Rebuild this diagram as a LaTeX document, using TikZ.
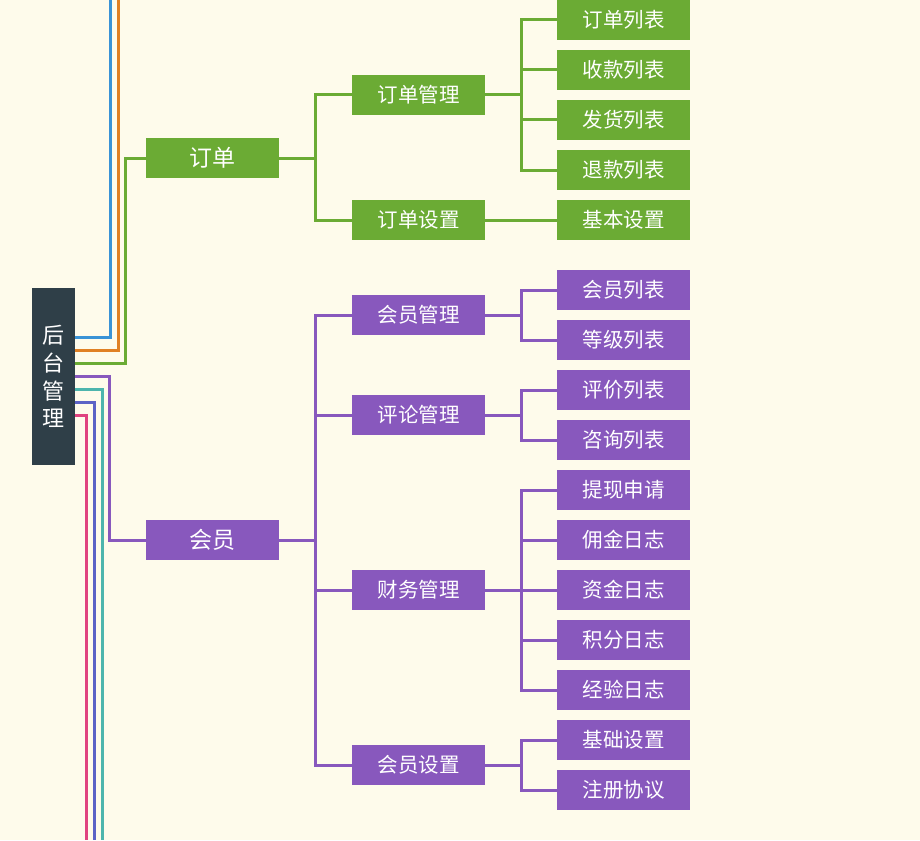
\documentclass[tikz,border=0pt]{standalone}
\usepackage{fontspec}
\setmainfont{Noto Sans CJK SC}
\definecolor{bg}{HTML}{FEFBEB}
\definecolor{gr}{HTML}{6BAB34}
\definecolor{pu}{HTML}{8858BD}
\definecolor{rootc}{HTML}{2F3F48}
\definecolor{bl}{HTML}{3A93D6}
\definecolor{orc}{HTML}{E08024}
\definecolor{te}{HTML}{4DB5AD}
\definecolor{ind}{HTML}{5C63C6}
\definecolor{pk}{HTML}{E0437F}
\begin{document}
\begin{tikzpicture}[x=1pt,y=-1pt,
  box/.style={minimum width=133pt, minimum height=40pt, inner sep=0pt, text=white, font=\fontsize{20.5}{24}\selectfont},
  gbox/.style={box, fill=gr},
  pbox/.style={box, fill=pu},
  big/.style={font=\fontsize{23}{28}\selectfont},
  conn/.style={line width=3pt},
  gline/.style={conn, draw=gr},
  pline/.style={conn, draw=pu}]
\fill[bg] (0,0) rectangle (920,840);
\useasboundingbox (0,0) rectangle (920,840);

% root
\node[fill=rootc, minimum width=43pt, minimum height=177pt, inner sep=0pt, text=white,
      align=center, font=\fontsize{22}{27.8}\selectfont] (root) at (53.5,376.5) {后\\台\\管\\理};

% level 1
\node[gbox, big] (dd) at (212.5,158) {订单};
\node[pbox, big] (hy) at (212.5,540) {会员};

% level 2
\node[gbox] (ddgl) at (418.5,95) {订单管理};
\node[gbox] (ddsz) at (418.5,220) {订单设置};
\node[pbox] (hygl) at (418.5,315) {会员管理};
\node[pbox] (plgl) at (418.5,415) {评论管理};
\node[pbox] (cwgl) at (418.5,590) {财务管理};
\node[pbox] (hysz) at (418.5,765) {会员设置};

% level 3
\node[gbox] (a1) at (623.5,20) {订单列表};
\node[gbox] (a2) at (623.5,70) {收款列表};
\node[gbox] (a3) at (623.5,120) {发货列表};
\node[gbox] (a4) at (623.5,170) {退款列表};
\node[gbox] (b1) at (623.5,220) {基本设置};
\node[pbox] (c1) at (623.5,290) {会员列表};
\node[pbox] (c2) at (623.5,340) {等级列表};
\node[pbox] (d1) at (623.5,390) {评价列表};
\node[pbox] (d2) at (623.5,440) {咨询列表};
\node[pbox] (e1) at (623.5,490) {提现申请};
\node[pbox] (e2) at (623.5,540) {佣金日志};
\node[pbox] (e3) at (623.5,590) {资金日志};
\node[pbox] (e4) at (623.5,640) {积分日志};
\node[pbox] (e5) at (623.5,690) {经验日志};
\node[pbox] (f1) at (623.5,740) {基础设置};
\node[pbox] (f2) at (623.5,790) {注册协议};

% free ends
\coordinate (tB) at (110,0);
\coordinate (tO) at (118,0);
\coordinate (bT) at (102,840);
\coordinate (bI) at (94,840);
\coordinate (bP) at (86,840);

% root connectors
\draw[conn, draw=bl] (root.east |- 0,337) -| (tB);
\draw[conn, draw=orc] (root.east |- 0,350) -| (tO);
\draw[gline] (root.east |- 0,363) -| ([xshift=-20pt]dd.west) -- (dd.west);
\draw[pline] (root.east |- 0,376) -| ([xshift=-36pt]hy.west) -- (hy.west);
\draw[conn, draw=te] (root.east |- 0,389) -| (bT);
\draw[conn, draw=ind] (root.east |- 0,402) -| (bI);
\draw[conn, draw=pk] (root.east |- 0,415) -| (bP);

% order tree
\foreach \c in {ddgl,ddsz} \draw[gline] (dd.east) -- ++(36,0) |- (\c.west);
\foreach \c in {a1,a2,a3,a4} \draw[gline] (ddgl.east) -- ++(36,0) |- (\c.west);
\draw[gline] (ddsz.east) -- (b1.west);

% member tree
\foreach \c in {hygl,plgl,cwgl,hysz} \draw[pline] (hy.east) -- ++(36,0) |- (\c.west);
\foreach \c in {c1,c2} \draw[pline] (hygl.east) -- ++(36,0) |- (\c.west);
\foreach \c in {d1,d2} \draw[pline] (plgl.east) -- ++(36,0) |- (\c.west);
\foreach \c in {e1,e2,e3,e4,e5} \draw[pline] (cwgl.east) -- ++(36,0) |- (\c.west);
\foreach \c in {f1,f2} \draw[pline] (hysz.east) -- ++(36,0) |- (\c.west);
\end{tikzpicture}
\end{document}
